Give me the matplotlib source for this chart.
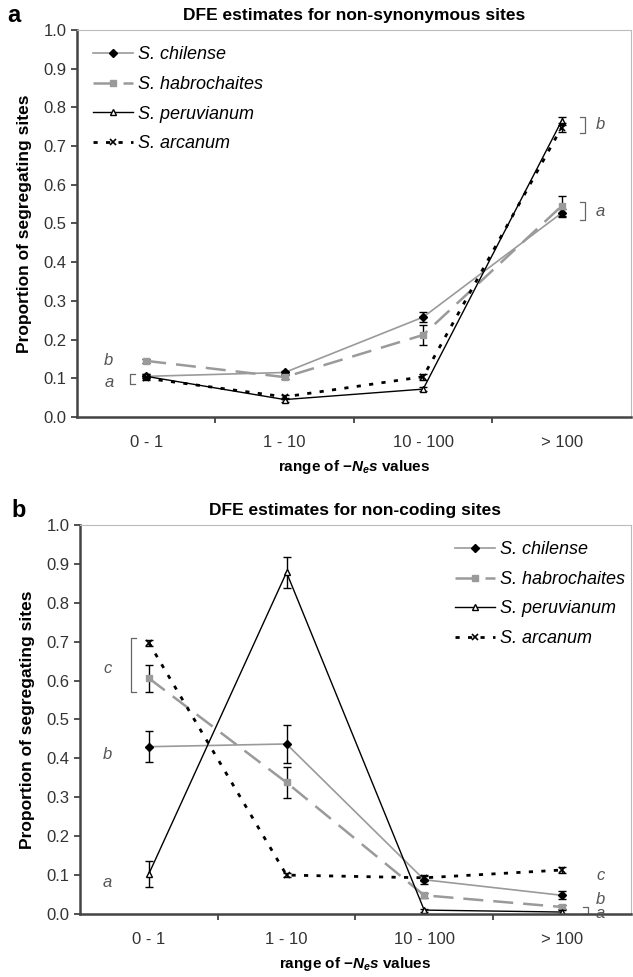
"""
DFE estimates, two panels
"""

import matplotlib
matplotlib.use("Agg")
import matplotlib.pyplot as plt
import numpy as np

plt.rcParams['font.family'] = ['Liberation Sans', 'DejaVu Sans']
plt.rcParams['mathtext.fontset'] = 'custom'
plt.rcParams['mathtext.rm'] = 'Liberation Sans:bold'
plt.rcParams['mathtext.it'] = 'Liberation Sans:bold:italic'

categories = ['0 - 1', '1 - 10', '10 - 100', '> 100']
species = ['S. chilense', 'S. habrochaites', 'S. peruvianum', 'S. arcanum']

# panel a: non-synonymous sites
a_vals = {'S. chilense':     [0.105, 0.115, 0.258, 0.527],
          'S. habrochaites': [0.145, 0.103, 0.212, 0.545],
          'S. peruvianum':   [0.105, 0.045, 0.072, 0.765],
          'S. arcanum':      [0.100, 0.052, 0.104, 0.748]}
a_err = {'S. chilense':     [0.005, 0.005, 0.012, 0.010],
         'S. habrochaites': [0.005, 0.006, 0.025, 0.025],
         'S. peruvianum':   [0.005, 0.005, 0.005, 0.010],
         'S. arcanum':      [0.005, 0.005, 0.008, 0.012]}

# panel b: non-coding sites
b_vals = {'S. chilense':     [0.430, 0.437, 0.088, 0.048],
          'S. habrochaites': [0.606, 0.338, 0.048, 0.018],
          'S. peruvianum':   [0.103, 0.878, 0.010, 0.005],
          'S. arcanum':      [0.697, 0.100, 0.093, 0.113]}
b_err = {'S. chilense':     [0.040, 0.050, 0.010, 0.010],
         'S. habrochaites': [0.035, 0.040, 0.006, 0.006],
         'S. peruvianum':   [0.033, 0.040, 0.004, 0.004],
         'S. arcanum':      [0.007, 0.006, 0.007, 0.007]}

# significance letters: (x, y, letter), brackets: (x, y0, y1, side)
a_letters = [(-0.27, 0.145, 'b'), (-0.27, 0.09, 'a'), (3.28, 0.755, 'b'), (3.28, 0.532, 'a')]
a_brackets = [(-0.12, 0.085, 0.11, 'l'), (3.17, 0.735, 0.775, 'r'), (3.17, 0.51, 0.555, 'r')]
b_letters = [(-0.3, 0.63, 'c'), (-0.3, 0.41, 'b'), (-0.3, 0.08, 'a'), (3.28, 0.1, 'c'), (3.28, 0.037, 'b'), (3.28, 0.0, 'a')]
b_brackets = [(-0.13, 0.57, 0.71, 'l'), (3.19, 0.0, 0.018, 'r')]

styles = {'S. chilense':     dict(color='#9a9a9a', ls='-', lw=1.2, marker='D', ms=4.5, mfc='black', mec='black'),
          'S. habrochaites': dict(color='#9a9a9a', ls=(0, (8, 4)), lw=1.8, marker='s', ms=5, mfc='#9a9a9a', mec='#9a9a9a'),
          'S. peruvianum':   dict(color='black', ls='-', lw=1.0, marker='^', ms=5, mfc='white', mec='black'),
          'S. arcanum':      dict(color='black', ls=(0, (1.5, 3)), lw=2.0, marker='x', ms=5, mew=1.2, mfc='black', mec='black')}

fig = plt.figure(figsize=(6.33, 9.77), dpi=100)
ax_a = fig.add_axes([0.1216, 0.5732, 0.875, 0.3961])
ax_b = fig.add_axes([0.1264, 0.0645, 0.870, 0.3982])

x = np.arange(len(categories))


def draw(ax, vals, errs, title, letter, loc, anchor, letters, brackets):
    for sp in species:
        ax.errorbar(x, vals[sp], yerr=errs[sp], fmt='none', ecolor='black', elinewidth=1.0,
                    capsize=3, capthick=1.0)
        ax.plot(x, vals[sp], label=sp, **styles[sp])
    ax.set_xlim(-0.5, 3.5)
    ax.set_ylim(0, 1.0)
    ax.set_yticks(np.arange(0, 1.01, 0.1))
    ax.set_yticklabels([f"{v:.1f}" for v in np.arange(0, 1.01, 0.1)])
    ax.set_xticks(x)
    ax.set_xticklabels(categories)
    ax.set_xticks([0.5, 1.5, 2.5], minor=True)
    ax.tick_params(axis='x', which='major', length=0, pad=13, labelsize=12, colors='#333333')
    ax.tick_params(axis='x', which='minor', length=4, width=1.2, direction='out', color='#333333')
    ax.tick_params(axis='y', length=4, width=1.2, labelsize=12, colors='#333333')
    for s in ['left', 'bottom']:
        ax.spines[s].set_linewidth(1.8)
        ax.spines[s].set_color('#444444')
    for s in ['top', 'right']:
        ax.spines[s].set_linewidth(0.8)
        ax.spines[s].set_color('#bbbbbb')
    ax.set_ylabel('Proportion of segregating sites', fontweight='bold', fontsize=12.5, labelpad=8)
    ax.set_xlabel(r'range of $-N_e s$ values', fontweight='bold', fontsize=11, labelpad=6)
    ax.set_title(title, fontweight='bold', fontsize=12.5, pad=7)
    ax.text(-0.125, 1.02, letter, transform=ax.transAxes, fontweight='bold', fontsize=17)
    ax.legend(loc=loc, bbox_to_anchor=anchor, frameon=False, prop={'style': 'italic', 'size': 13},
              handlelength=2.2, labelspacing=0.7, handletextpad=0.3)
    for lx, ly, lt in letters:
        ax.text(lx, ly, lt, style='italic', color='#555555', fontsize=12, ha='center', va='center')
    for bx, y0, y1, side in brackets:
        d = 0.04 if side == 'l' else -0.04
        ax.plot([bx + d, bx, bx, bx + d], [y0, y0, y1, y1], color='#666666', lw=0.9, clip_on=False)


draw(ax_a, a_vals, a_err, 'DFE estimates for non-synonymous sites', 'a',
     'upper left', (0.0, 1.0), a_letters, a_brackets)
draw(ax_b, b_vals, b_err, 'DFE estimates for non-coding sites', 'b',
     'upper right', (1.02, 1.0), b_letters, b_brackets)

fig.savefig('out.png', dpi=100)
